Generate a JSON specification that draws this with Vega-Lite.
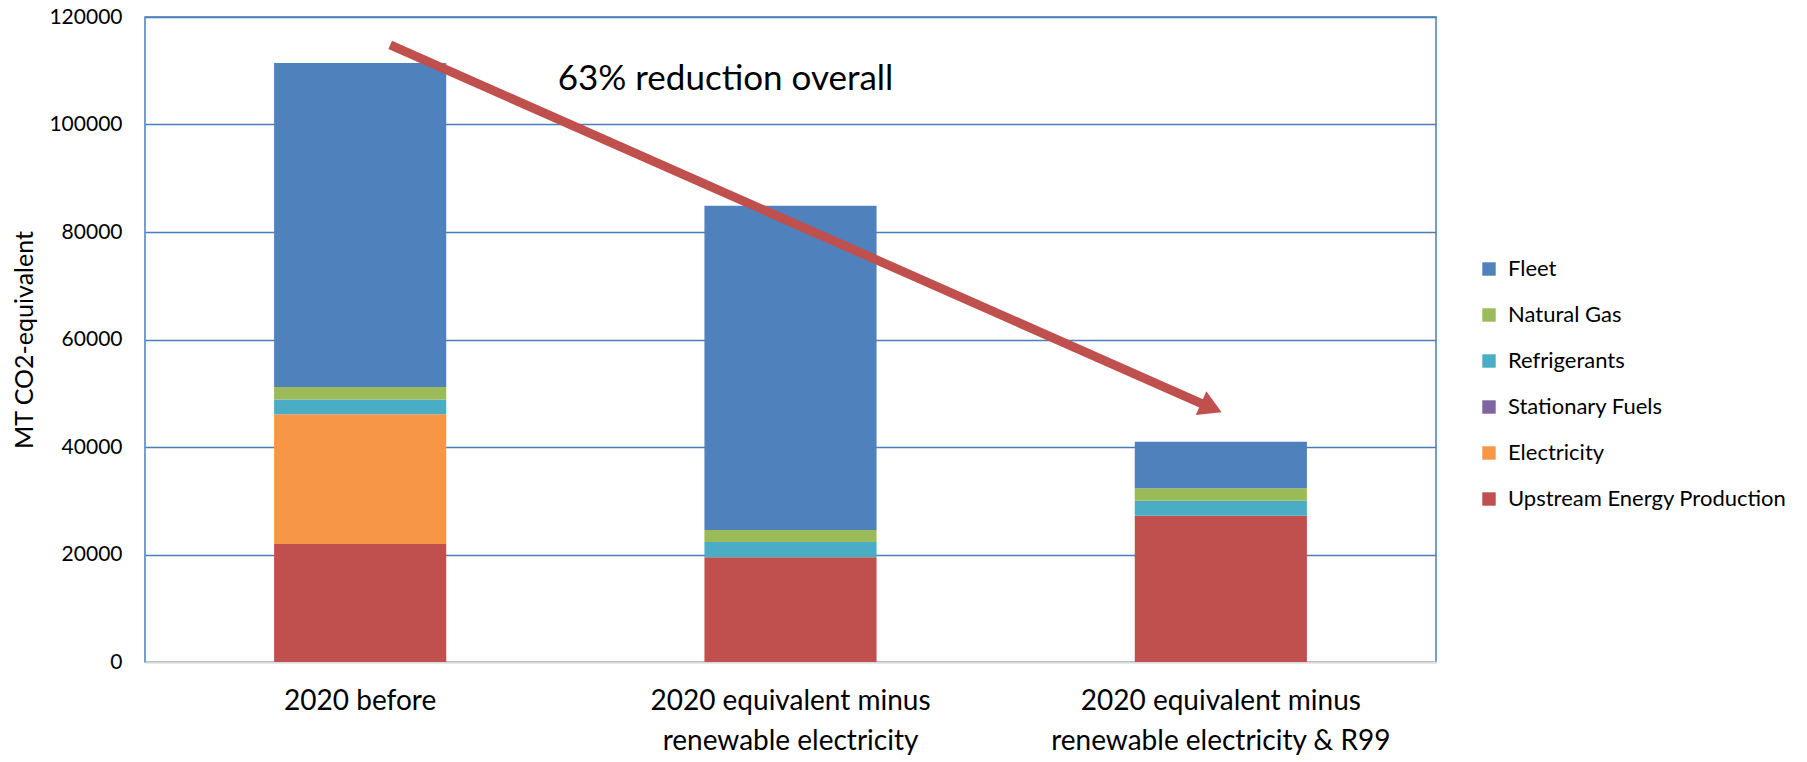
{
  "$schema": "https://vega.github.io/schema/vega-lite/v6.json",
  "autosize": {"type": "none"},
  "width": 1291,
  "height": 645,
  "padding": {"left": 145, "top": 17, "right": 371, "bottom": 100},
  "background": "white",
  "config": {
    "font": "Lato",
    "view": {"stroke": "#4A7EBB", "strokeWidth": 1.5},
    "axis": {"labelFont": "Lato", "titleFont": "Lato", "labelColor": "#000000", "titleColor": "#000000"}
  },
  "datasets": {
    "bars": [
      {"scenario": "2020 before", "source": "Upstream Energy Production", "value": 21950, "rank": 1},
      {"scenario": "2020 before", "source": "Electricity", "value": 24130, "rank": 2},
      {"scenario": "2020 before", "source": "Stationary Fuels", "value": 30, "rank": 3},
      {"scenario": "2020 before", "source": "Refrigerants", "value": 2720, "rank": 4},
      {"scenario": "2020 before", "source": "Natural Gas", "value": 2310, "rank": 5},
      {"scenario": "2020 before", "source": "Fleet", "value": 60280, "rank": 6},
      {"scenario": "2020 equivalent minus renewable electricity", "source": "Upstream Energy Production", "value": 19480, "rank": 1},
      {"scenario": "2020 equivalent minus renewable electricity", "source": "Electricity", "value": 0, "rank": 2},
      {"scenario": "2020 equivalent minus renewable electricity", "source": "Stationary Fuels", "value": 30, "rank": 3},
      {"scenario": "2020 equivalent minus renewable electricity", "source": "Refrigerants", "value": 2820, "rank": 4},
      {"scenario": "2020 equivalent minus renewable electricity", "source": "Natural Gas", "value": 2230, "rank": 5},
      {"scenario": "2020 equivalent minus renewable electricity", "source": "Fleet", "value": 60340, "rank": 6},
      {"scenario": "2020 equivalent minus renewable electricity & R99", "source": "Upstream Energy Production", "value": 27160, "rank": 1},
      {"scenario": "2020 equivalent minus renewable electricity & R99", "source": "Electricity", "value": 0, "rank": 2},
      {"scenario": "2020 equivalent minus renewable electricity & R99", "source": "Stationary Fuels", "value": 30, "rank": 3},
      {"scenario": "2020 equivalent minus renewable electricity & R99", "source": "Refrigerants", "value": 2820, "rank": 4},
      {"scenario": "2020 equivalent minus renewable electricity & R99", "source": "Natural Gas", "value": 2310, "rank": 5},
      {"scenario": "2020 equivalent minus renewable electricity & R99", "source": "Fleet", "value": 8670, "rank": 6}
    ],
    "arrow": [
      {"from": "2020 before", "to": "2020 equivalent minus renewable electricity & R99", "start": 114800, "end": 47300}
    ],
    "note": [
      {"scenario": "2020 equivalent minus renewable electricity", "y": 106400, "text": "63% reduction overall"}
    ]
  },
  "layer": [
    {
      "data": {"name": "bars"},
      "mark": {"type": "bar"},
      "encoding": {
        "x": {
          "field": "scenario",
          "type": "nominal",
          "scale": {
            "domain": ["2020 before", "2020 equivalent minus renewable electricity", "2020 equivalent minus renewable electricity & R99"],
            "paddingInner": 0.6,
            "paddingOuter": 0.3
          },
          "axis": {
            "title": null,
            "labelAngle": 0,
            "labelFontSize": 28,
            "labelLineHeight": 40,
            "labelBaseline": "top",
            "labelPadding": 25,
            "ticks": false,
            "domainColor": "#D9D9D9",
            "domainWidth": 2,
            "labelLimit": 0,
            "labelExpr": "indexof(datum.value, ' minus ') > 0 ? [substring(datum.value, 0, indexof(datum.value, ' minus ') + 6), substring(datum.value, indexof(datum.value, ' minus ') + 7)] : datum.value"
          }
        },
        "y": {
          "field": "value",
          "type": "quantitative",
          "stack": "zero",
          "scale": {"domain": [0, 120000], "nice": false},
          "axis": {
            "title": "MT CO2-equivalent",
            "titleFontSize": 25,
            "titleFontWeight": "normal",
            "titlePadding": 11,
            "labelFontSize": 21,
            "labelPadding": 23,
            "ticks": false,
            "domain": false,
            "values": [0, 20000, 40000, 60000, 80000, 100000, 120000],
            "format": "d",
            "gridColor": {"condition": {"test": "datum.value == 0", "value": "#D9D9D9"}, "value": "#4A7EBB"},
            "gridWidth": 1.5
          }
        },
        "color": {
          "field": "source",
          "type": "nominal",
          "scale": {
            "domain": ["Fleet", "Natural Gas", "Refrigerants", "Stationary Fuels", "Electricity", "Upstream Energy Production"],
            "range": ["#4F81BD", "#9BBB59", "#4BACC6", "#8064A2", "#F79646", "#C0504D"]
          },
          "legend": {
            "title": null,
            "orient": "none",
            "legendX": 1333,
            "legendY": 241,
            "symbolType": "square",
            "symbolSize": 180,
            "symbolStrokeWidth": 0,
            "labelFontSize": 22,
            "labelOffset": 8,
            "rowPadding": 24,
            "labelLimit": 0,
            "padding": 0
          }
        },
        "order": {"field": "rank", "type": "quantitative", "sort": "ascending"}
      }
    },
    {
      "data": {"name": "arrow"},
      "mark": {"type": "rule", "color": "#C0504D", "strokeWidth": 9, "xOffset": 30, "x2Offset": -9.5},
      "encoding": {
        "x": {"field": "from", "type": "nominal"},
        "x2": {"field": "to"},
        "y": {"field": "start", "type": "quantitative"},
        "y2": {"field": "end"}
      }
    },
    {
      "data": {"name": "arrow"},
      "mark": {"type": "point", "shape": "triangle-right", "filled": true, "color": "#C0504D", "opacity": 1, "size": 676, "angle": 24, "xOffset": -9.5},
      "encoding": {
        "x": {"field": "to", "type": "nominal"},
        "y": {"field": "end", "type": "quantitative"}
      }
    },
    {
      "data": {"name": "note"},
      "mark": {"type": "text", "fontSize": 35, "xOffset": -65, "baseline": "alphabetic", "align": "center", "color": "#000000"},
      "encoding": {
        "x": {"field": "scenario", "type": "nominal"},
        "y": {"field": "y", "type": "quantitative"},
        "text": {"field": "text"}
      }
    }
  ]
}
